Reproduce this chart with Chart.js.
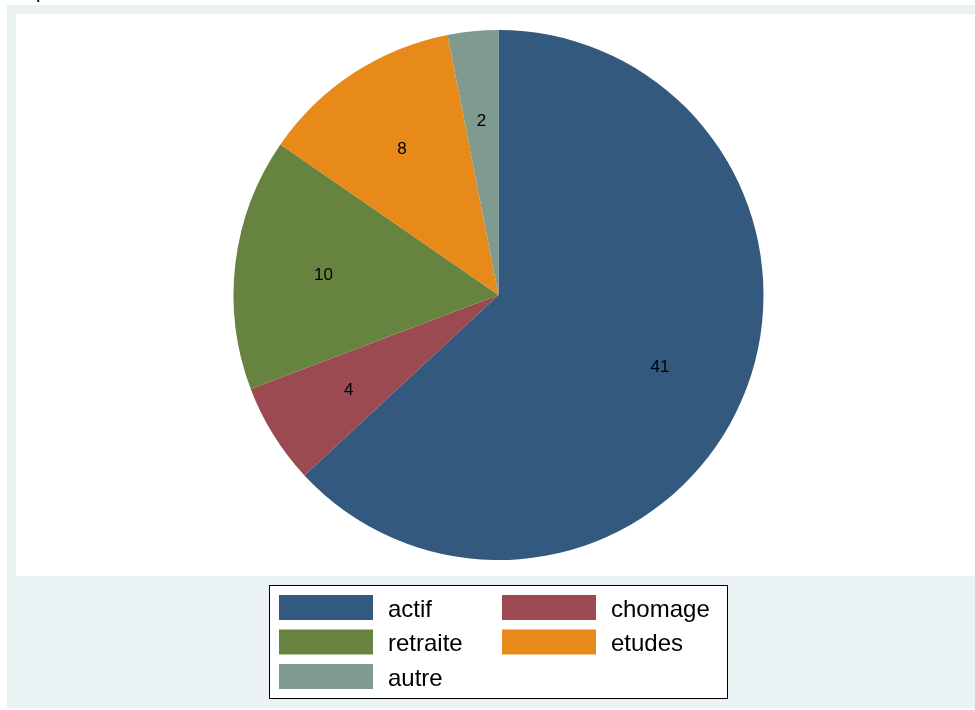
<!DOCTYPE html>
<html>
<head>
<meta charset="utf-8">
<script src="https://cdn.jsdelivr.net/npm/chart.js@4.4.1/dist/chart.umd.min.js"></script>
<style>
  html, body { margin: 0; padding: 0; background: #fff; }
  #wrap { width: 975px; height: 710px; position: relative; }
</style>
</head>
<body>
<div id="wrap"><canvas id="pie" width="975" height="710"></canvas></div>
<script>
const categories = ["actif", "chomage", "retraite", "etudes", "autre"];
const counts = [41, 4, 10, 8, 2];
const colors = ["#335A7E", "#9A4A50", "#66843F", "#E78A1A", "#7F9A8F"];

// Stata-like frame: light blue graph region, white plot region
const framePlugin = {
  id: "frame",
  beforeDraw(chart) {
    const c = chart.ctx;
    c.save();
    c.fillStyle = "#ffffff";
    c.fillRect(0, 0, chart.width, chart.height);
    c.fillStyle = "#EAF2F3";
    c.fillRect(7, 5, chart.width - 7, 703);
    c.fillStyle = "#ffffff";
    c.fillRect(16, 14, chart.width - 16, 562);
    // clipped title at very top
    c.fillStyle = "#000";
    c.font = "20px 'Liberation Sans', Arial, sans-serif";
    c.textBaseline = "alphabetic";
    c.fillText("p", 36, -2);
    c.restore();
  },
};

// value labels inside slices
const sliceLabels = {
  id: "sliceLabels",
  afterDatasetsDraw(chart) {
    const c = chart.ctx;
    const meta = chart.getDatasetMeta(0);
    c.save();
    c.fillStyle = "#000";
    c.font = "17px 'Liberation Sans', Arial, sans-serif";
    c.textAlign = "center";
    c.textBaseline = "middle";
    meta.data.forEach((arc, i) => {
      const p = arc.getProps(["x", "y", "startAngle", "endAngle", "outerRadius"], true);
      const mid = (p.startAngle + p.endAngle) / 2;
      const r = p.outerRadius * 0.665;
      c.fillText(String(chart.data.datasets[0].data[i]), p.x + Math.cos(mid) * r, p.y + Math.sin(mid) * r + 2);
    });
    c.restore();
  },
};

// two-column boxed legend below the plot region
const gridLegend = {
  id: "gridLegend",
  afterDraw(chart) {
    const c = chart.ctx;
    const ds = chart.data.datasets[0];
    const x0 = 269, y0 = 585, w = 458, h = 113;
    c.save();
    c.fillStyle = "#fff";
    c.fillRect(x0, y0, w, h);
    c.strokeStyle = "#000";
    c.lineWidth = 1;
    c.strokeRect(x0 + 0.5, y0 + 0.5, w, h);
    c.font = "24px 'Liberation Sans', Arial, sans-serif";
    c.textBaseline = "middle";
    c.textAlign = "left";
    chart.data.labels.forEach((lab, i) => {
      const col = i % 2, row = Math.floor(i / 2);
      const bx = x0 + 10 + col * 223;
      const by = y0 + 10 + row * 34.5;
      c.fillStyle = ds.backgroundColor[i];
      c.fillRect(bx, by, 94, 25);
      c.fillStyle = "#000";
      c.fillText(lab, bx + 109, by + 15);
    });
    c.restore();
  },
};

new Chart(document.getElementById("pie").getContext("2d"), {
  type: "pie",
  data: {
    labels: categories,
    datasets: [
      {
        data: counts,
        backgroundColor: colors,
        borderWidth: 0,
      },
    ],
  },
  options: {
    responsive: false,
    animation: false,
    layout: { padding: { left: 232, right: 210, top: 30, bottom: 150 } },
    plugins: {
      legend: { display: false },
      tooltip: { enabled: false },
    },
  },
  plugins: [framePlugin, sliceLabels, gridLegend],
});
</script>
</body>
</html>
